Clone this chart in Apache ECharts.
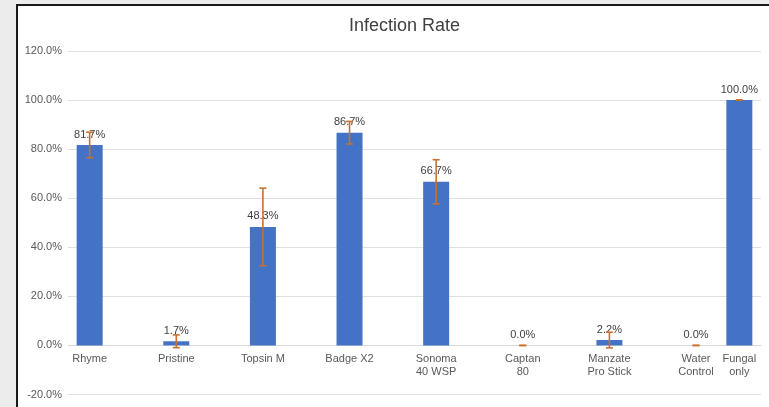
<!DOCTYPE html>
<html>
<head>
<meta charset="utf-8">
<script src="https://cdn.jsdelivr.net/npm/echarts@6/dist/echarts.min.js"></script>
<style>
html,body{margin:0;padding:0;background:#ececec;width:769px;height:407px;overflow:hidden;}
#box{position:absolute;left:16px;top:4px;width:820px;height:460px;background:#fff;border:2px solid #1a1a1a;box-sizing:border-box;}
#chart{position:absolute;left:0;top:0;width:769px;height:407px;}
</style>
</head>
<body>
<div id="box"></div>
<div id="chart"></div>
<script>
var categories = ['Rhyme', 'Pristine', 'Topsin M', 'Badge X2', 'Sonoma\n40 WSP', 'Captan\n80', 'Manzate\nPro Stick', 'Water\nControl', 'Fungal\nonly'];
var infectionRate = [81.7, 1.7, 48.3, 86.7, 66.7, 0.0, 2.2, 0.0, 100.0];
var errorAmount = [5.2, 2.6, 15.8, 4.6, 9.0, 0.0, 3.2, 0.0, 0.0];
var yTicks = [-20, 0, 20, 40, 60, 80, 100, 120];

// axis slots: a spacer slot between categories (the last two sit side by side in the original)
var slots = [], slotOf = [];
categories.forEach(function (c, i) {
  slotOf.push(slots.length);
  slots.push(c);
  if (i < categories.length - 2) slots.push('');
});
var barData = slots.map(function () { return null; });
infectionRate.forEach(function (v, i) { barData[slotOf[i]] = v; });
var errData = infectionRate.map(function (v, i) {
  return [slotOf[i], v - errorAmount[i], v + errorAmount[i]];
});

var W = 769, H = 407;
var gridTop = 51, gridBottom = 12.5;
var yMin = yTicks[0], yMax = yTicks[yTicks.length - 1];
// move the category axis up to the zero line
var zeroOffset = -(H - gridTop - gridBottom) * (0 - yMin) / (yMax - yMin);

var chart = echarts.init(document.getElementById('chart'), null, {renderer: 'canvas'});
var font = 'Liberation Sans, Arial, Helvetica, sans-serif';
chart.setOption({
  animation: false,
  backgroundColor: 'transparent',
  title: {
    text: 'Infection Rate',
    left: 344, top: 12,
    textStyle: {fontFamily: font, fontSize: 18, fontWeight: 'normal', color: '#404040'}
  },
  grid: {left: 68, right: 8, top: gridTop, bottom: gridBottom, containLabel: false, outerBoundsMode: 'none'},
  xAxis: {
    type: 'category',
    data: slots,
    position: 'bottom',
    offset: zeroOffset,
    axisTick: {show: false},
    axisLine: {show: true, onZero: false, lineStyle: {color: '#d9d9d9', width: 1}},
    axisLabel: {interval: 0, margin: 7, fontFamily: font, fontSize: 11, color: '#595959', lineHeight: 13},
    splitLine: {show: false}
  },
  yAxis: {
    type: 'value',
    min: yMin, max: yMax, interval: 20,
    axisLine: {show: false}, axisTick: {show: false},
    axisLabel: {margin: 6, fontFamily: font, fontSize: 11, color: '#595959',
      formatter: function (v) { return v.toFixed(1) + '%'; }},
    splitLine: {lineStyle: {color: '#e0e0e0', width: 1}}
  },
  series: [
    {
      type: 'bar',
      data: barData,
      barWidth: 26,
      itemStyle: {color: '#4472c4'},
      label: {
        show: true, position: 'top', distance: 5,
        fontFamily: font, fontSize: 11, color: '#404040',
        formatter: function (p) { return p.value.toFixed(1) + '%'; }
      },
      z: 2
    },
    {
      type: 'custom',
      data: errData,
      z: 10,
      renderItem: function (params, api) {
        var x = api.value(0);
        var lo = api.coord([x, api.value(1)]);
        var hi = api.coord([x, api.value(2)]);
        var hw = 3.5;
        var style = {stroke: '#c8702f', lineWidth: 1.6};
        return {
          type: 'group',
          children: [
            {type: 'line', shape: {x1: lo[0], y1: lo[1], x2: hi[0], y2: hi[1]}, style: style},
            {type: 'line', shape: {x1: hi[0] - hw, y1: hi[1], x2: hi[0] + hw, y2: hi[1]}, style: style},
            {type: 'line', shape: {x1: lo[0] - hw, y1: lo[1], x2: lo[0] + hw, y2: lo[1]}, style: style}
          ]
        };
      }
    }
  ]
});
</script>
</body>
</html>
